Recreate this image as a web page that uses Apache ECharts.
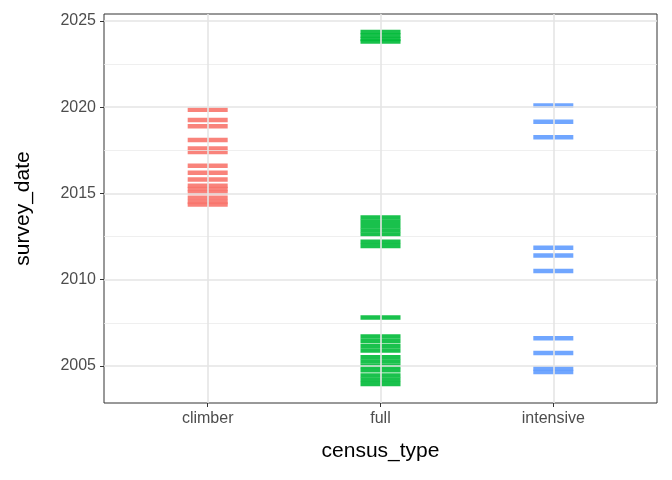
<!DOCTYPE html>
<html><head><meta charset="utf-8">
<script src="https://cdn.jsdelivr.net/npm/echarts@6/dist/echarts.min.js"></script>
<style>html,body{margin:0;background:#fff}#c{width:672px;height:480px}</style>
</head><body><div id="c"></div>
<script>
var categories = ['climber', 'full', 'intensive'];
var climberDates = [2019.85, 2019.25, 2018.9, 2018.1, 2017.6, 2017.4, 2016.6, 2016.2, 2015.8, 2015.45, 2015.25, 2015.05, 2014.75, 2014.5, 2014.35];
var fullDates = [2024.35, 2024.15, 2023.95, 2023.8, 2013.6, 2013.35, 2013.1, 2012.85, 2012.6, 2012.2, 2011.95, 2007.8,
    2006.7, 2006.45, 2006.15, 2005.9, 2005.5, 2005.25, 2005.0, 2004.75, 2004.45, 2004.2, 2003.95];
var intensiveDates = [2020.1, 2019.15, 2018.25, 2011.85, 2011.4, 2010.5, 2006.6, 2005.75, 2004.85, 2004.65];
var yTicks = [2005, 2010, 2015, 2020, 2025];
var yMinor = [2007.5, 2012.5, 2017.5, 2022.5];
var colors = ['#F8766D', '#00BA38', '#619CFF'];

var myChart = echarts.init(document.getElementById('c'));
function pts(idx, arr) { return arr.map(function (v) { return [idx + 1, v]; }); }
var grid = [];
yMinor.forEach(function (v) { grid.push({yAxis: v, lineStyle: {color: '#ebebeb', width: 0.8, type: 'solid'}}); });
yTicks.forEach(function (v) { grid.push({yAxis: v, lineStyle: {color: '#e5e5e5', width: 1.6, type: 'solid'}}); });
[1, 2, 3].forEach(function (v) { grid.push({xAxis: v, lineStyle: {color: '#e5e5e5', width: 1.6, type: 'solid'}}); });

var series = [{
    type: 'scatter', data: [], silent: true,
    markLine: {silent: true, symbol: 'none', label: {show: false}, animation: false, data: grid}
}];
[climberDates, fullDates, intensiveDates].forEach(function (arr, i) {
    series.push({
        type: 'scatter', name: categories[i], data: pts(i, arr),
        symbol: 'rect', symbolSize: [40, 4.5],
        itemStyle: {color: colors[i], opacity: 0.9}
    });
});

var option = {
    animation: false,
    grid: {left: 104, right: 15, top: 14, bottom: 77, show: true, borderColor: '#333', borderWidth: 1},
    xAxis: {
        type: 'value', min: 0.4, max: 3.6,
        name: 'census_type', nameLocation: 'middle', nameGap: 38,
        nameTextStyle: {color: '#000', fontSize: 21, fontFamily: 'Liberation Sans'},
        axisLine: {show: false}, splitLine: {show: false},
        axisTick: {show: true, length: 4, lineStyle: {color: '#333'}, customValues: [1, 2, 3]},
        axisLabel: {color: '#4d4d4d', fontSize: 16, fontFamily: 'Liberation Sans', margin: 8,
            customValues: [1, 2, 3], formatter: function (v) { return categories[Math.round(v) - 1]; }}
    },
    yAxis: {
        type: 'value', min: 2002.85, max: 2025.4,
        name: 'survey_date', nameLocation: 'middle', nameGap: 70,
        nameTextStyle: {color: '#000', fontSize: 21, fontFamily: 'Liberation Sans'},
        axisLine: {show: false}, splitLine: {show: false},
        axisTick: {show: true, length: 4, lineStyle: {color: '#333'}, customValues: yTicks},
        axisLabel: {color: '#4d4d4d', fontSize: 16, fontFamily: 'Liberation Sans', margin: 8,
            customValues: yTicks, formatter: function (v) { return String(v); }}
    },
    series: series
};
myChart.setOption(option);
</script></body></html>
